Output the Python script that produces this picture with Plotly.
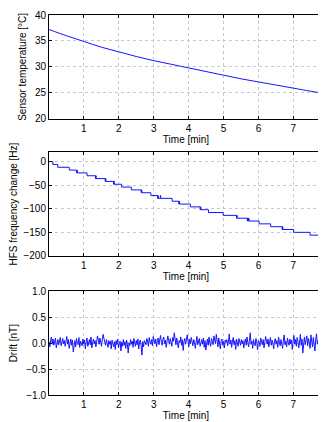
import numpy as np
import plotly.graph_objects as go
from plotly.subplots import make_subplots

# sensor temperature [deg C] vs time [min]
temp_t = [0.0, 0.5, 1.0, 1.5, 2.0, 2.5, 3.0, 3.5, 4.0, 4.5, 5.0, 5.5, 6.0, 6.5, 7.0, 7.5, 7.85]
temp_c = [37.2, 36.0, 34.9, 33.8, 32.9, 32.0, 31.2, 30.5, 29.8, 29.1, 28.4, 27.7, 27.1, 26.5, 25.9, 25.3, 24.9]

# HFS frequency change [Hz], step trace (hv), short flickers back to the previous level
hfs_t = [0.00, 0.11, 0.25, 0.58,
         0.79, 0.80, 0.81,
         1.09,
         1.33, 1.34, 1.35,
         1.61, 1.62, 1.63,
         1.85, 1.86, 1.87,
         2.08, 2.36,
         2.64, 2.65, 2.66,
         2.92,
         3.11, 3.12, 3.13, 3.19, 3.20,
         3.53,
         3.72, 3.73, 3.74,
         4.05,
         4.33, 4.34, 4.35,
         4.57, 4.99,
         5.37, 5.38, 5.39,
         5.68, 5.69, 5.70, 5.72, 5.73,
         6.02, 6.35,
         6.68, 6.69, 6.70,
         7.01, 7.48,
         7.79, 7.80, 7.81, 7.85]
hfs_hz = [0, -6, -12, -18,
          -24, -18, -24,
          -30,
          -36, -30, -36,
          -42, -36, -42,
          -48, -42, -48,
          -54, -60,
          -66, -60, -66,
          -72,
          -78, -72, -78, -72, -78,
          -84,
          -90, -84, -90,
          -96,
          -102, -96, -102,
          -108, -114,
          -120, -114, -120,
          -126, -120, -126, -120, -126,
          -132, -138,
          -144, -138, -144,
          -150, -156,
          -162, -156, -162, -162]

# drift [nT]
drift_nt = [
    0.03, -0.07, 0.05, 0.12, -0.02, 0.08, -0.04, 0.01, 0.10, -0.09, 0.04, 0.07, -0.03, 0.06, 0.11, -0.05, 0.02, 0.09, -0.01, 0.05,
    -0.06, 0.04, 0.13, -0.02, 0.07, -0.10, 0.03, 0.08, -0.04, 0.06, -0.17, 0.02, 0.05, -0.07, 0.09, 0.00, -0.03, 0.11, -0.08, 0.04,
    0.01, -0.05, 0.08, -0.02, 0.06, -0.11, 0.03, 0.10, -0.06, 0.02, 0.07, -0.03, 0.12, -0.09, 0.04, 0.08, -0.01, 0.05, -0.07, 0.09,
    0.14, 0.06, -0.02, 0.10, 0.03, -0.06, 0.08, 0.17, 0.09, 0.02, -0.04, 0.07, 0.01, -0.08, 0.05, -0.02, 0.04, -0.11, 0.06, 0.00,
    -0.07, 0.03, -0.12, 0.05, -0.03, 0.08, -0.09, -0.01, 0.04, -0.15, 0.02, -0.06, 0.07, -0.04, 0.03, -0.10, 0.06, -0.02, -0.19, 0.01,
    -0.05, 0.07, -0.02, 0.04, -0.08, 0.09, 0.00, -0.06, 0.05, -0.03, 0.08, -0.11, 0.02, 0.06, -0.04, -0.23, 0.03, -0.07, 0.05, 0.01,
    -0.03, 0.09, 0.04, -0.06, 0.11, 0.02, -0.02, 0.07, -0.05, 0.13, 0.03, -0.01, 0.08, -0.07, 0.05, 0.10, -0.03, 0.06, 0.15, 0.02,
    -0.04, 0.08, 0.12, -0.01, 0.06, -0.08, 0.03, 0.14, 0.05, -0.02, 0.09, 0.01, -0.06, 0.11, 0.04, 0.20, 0.07, -0.03, 0.10, 0.02,
    -0.09, 0.05, 0.01, 0.12, -0.04, 0.07, -0.14, 0.03, 0.09, -0.02, 0.06, 0.16, 0.04, -0.07, 0.08, -0.01, 0.11, 0.03, -0.05, 0.07,
    0.02, -0.10, 0.06, 0.13, -0.03, 0.04, 0.09, -0.06, 0.01, 0.07, -0.02, 0.10, -0.08, 0.05, -0.13, 0.03, 0.08, -0.04, 0.12, 0.00,
    -0.06, 0.09, 0.03, -0.03, 0.14, 0.06, -0.01, 0.17, 0.04, -0.07, 0.10, 0.02, -0.11, 0.05, 0.08, -0.04, 0.03, -0.09, 0.06, 0.01,
    0.07, -0.05, 0.02, 0.18, -0.02, 0.06, -0.08, 0.04, 0.11, -0.03, 0.05, -0.12, 0.08, 0.01, -0.06, 0.09, 0.03, -0.04, 0.07, -0.01,
    0.05, -0.09, 0.02, 0.08, -0.04, 0.12, 0.01, -0.07, 0.06, 0.20, -0.02, 0.04, -0.10, 0.07, 0.00, -0.05, 0.09, 0.03, -0.13, 0.05,
    0.02, -0.06, 0.10, 0.04, -0.03, 0.07, -0.09, 0.01, 0.13, 0.05, -0.02, 0.08, -0.07, 0.03, 0.11, -0.04, 0.06, 0.00, -0.11, 0.04,
    0.09, -0.02, 0.05, -0.08, 0.12, 0.03, -0.05, 0.07, 0.01, -0.10, 0.06, 0.16, -0.03, 0.04, -0.07, 0.10, 0.02, -0.04, 0.08, -0.01,
    0.06, -0.12, 0.03, 0.15, -0.02, 0.07, -0.06, 0.11, 0.04, -0.09, 0.02, 0.17, -0.04, 0.08, -0.19, 0.05, 0.12, -0.03, 0.06, 0.14,
    -0.05, 0.09, 0.02, -0.10, 0.16, 0.04, -0.07, 0.11, 0.01, -0.15, 0.08, 0.18, -0.02, 0.06, -0.08, 0.13, 0.03, -0.04, 0.07, 0.02,
]
drift_t = np.linspace(0, 7.85, len(drift_nt))

x_ticks = [1, 2, 3, 4, 5, 6, 7]
blue = "rgb(20,20,255)"

fig = make_subplots(rows=3, cols=1)
fig.add_trace(go.Scatter(x=temp_t, y=temp_c, mode="lines", line=dict(color=blue, width=1, shape="spline")), row=1, col=1)
fig.add_trace(go.Scatter(x=hfs_t, y=hfs_hz, mode="lines", line=dict(color=blue, width=1, shape="hv")), row=2, col=1)
fig.add_trace(go.Scatter(x=drift_t, y=drift_nt, mode="lines", line=dict(color=blue, width=1)), row=3, col=1)

font = dict(family="Liberation Sans, Arial", size=10, color="black")
axis_style = dict(
    showline=True, linecolor="black", linewidth=1, mirror="ticks",
    ticks="inside", ticklen=3, tickcolor="black",
    showgrid=True, gridcolor="rgb(200,200,200)", griddash="dot", gridwidth=1,
    zeroline=False, tickfont=font,
)
fig.update_xaxes(axis_style, range=[0, 7.85], tickvals=x_ticks,
                 title=dict(text="Time [min]", font=font, standoff=2))
fig.update_yaxes(axis_style)

fig.update_yaxes(range=[20, 40], tickvals=[20, 25, 30, 35, 40],
                 title=dict(text="Sensor temperature [°C]", font=font, standoff=6), row=1, col=1)
fig.update_yaxes(range=[-200, 20], tickvals=[-200, -150, -100, -50, 0],
                 title=dict(text="HFS frequency change [Hz]", font=font, standoff=6), row=2, col=1)
fig.update_yaxes(range=[-1, 1], tickvals=[-1, -0.5, 0, 0.5, 1], tickformat=".1f",
                 title=dict(text="Drift [nT]", font=font, standoff=6), row=3, col=1)

# page body has an 8px margin, so the figure is a bit smaller than the window
fig.update_layout(
    width=318, height=414,
    margin=dict(l=37, r=3, t=2, b=27),
    showlegend=False,
    plot_bgcolor="white", paper_bgcolor="white",
    yaxis=dict(domain=[0.727, 1.0]),
    yaxis2=dict(domain=[0.366, 0.639]),
    yaxis3=dict(domain=[0.0, 0.2727]),
)

fig.write_html("out.html")
